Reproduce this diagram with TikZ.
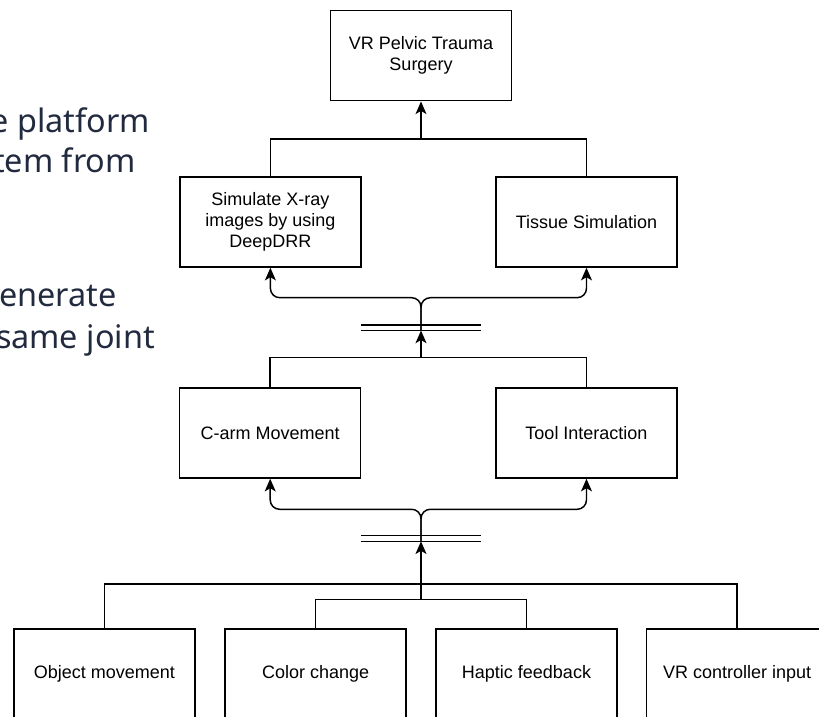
\documentclass[tikz,border=0pt]{standalone}
\usepackage{fontspec}
\setmainfont{Liberation Sans}
\newfontfamily\slidefont{Noto Sans}
\usepackage{tikz}
\usetikzlibrary{calc}
\usetikzlibrary{arrows.meta}

\definecolor{slidetext}{RGB}{33,42,62}

\tikzset{
  box/.style={draw, fill=white, line width=1.1pt, minimum width=135.75pt, minimum height=67.5pt, inner sep=0pt, align=center, font=\fontsize{13.5}{15.75}\selectfont},
  link/.style={line width=1.1pt},
  arrow/.style={line width=1.1pt, -{Stealth[length=9.5pt, width=8.2pt, inset=2.4pt]}},
  bgtext/.style={anchor=base east, inner sep=0pt, text=slidetext, font=\slidefont\fontsize{24.3}{29}\selectfont}
}

\begin{document}
\begin{tikzpicture}[x=0.75pt,y=-0.75pt]

\useasboundingbox (0,0) rectangle (819,717);
\clip (0,0) rectangle (819,717);

% slide text behind the diagram
\node[bgtext] (lineone) at (150,133) {e platform};
\node[bgtext] (linetwo) at (136,173) {tem from};
\node[bgtext] (linethree) at (117,306) {enerate};
\node[bgtext] (linefour) at (155,348) {same joint};

\node[box] (surgery) at (421,55.7) {VR Pelvic Trauma\\Surgery};
\node[box] (xray) at (270.4,222) {Simulate X-ray\\images by using\\DeepDRR};
\node[box] (tissue) at (586.5,222) {Tissue Simulation};
\node[box] (carm) at (270.2,433) {C-arm Movement};
\node[box] (tool) at (586.5,433) {Tool Interaction};
\node[box] (object) at (104.5,674) {Object movement};
\node[box] (color) at (315.6,674) {Color change};
\node[box] (haptic) at (526.5,674) {Haptic feedback};
\node[box] (vrinput) at (737.2,674) {VR controller input};

\coordinate (topjoin) at (421,139);
\coordinate (midjoin) at (421,357.5);
\coordinate (outerjoin) at (421,584);
\coordinate (botjoin) at (421,599.3);
\path (421,330.5) coordinate (midbar);
\path (421,541.3) coordinate (botbar);

% top level
\draw[link] (xray.north) |- (topjoin) -| (tissue.north);
\draw[arrow] (topjoin) -- (surgery.south);

% middle level
\draw[link] (carm.north) |- (midjoin) -| (tool.north);
\draw[arrow] (midjoin) -- (midbar);
\draw[link] ($(midbar)+(-60,0)$) -- ($(midbar)+(60,0)$);
\draw[link] ($(midbar)+(-60,-5.7)$) -- ($(midbar)+(60,-5.7)$);
\draw[arrow, rounded corners=7pt] (midbar) -- ++(0,-32.8) -| (xray.south);
\draw[arrow, rounded corners=7pt] (midbar) -- ++(0,-32.8) -| (tissue.south);

% bottom level
\draw[link] (object.north) |- (outerjoin) -| (vrinput.north);
\draw[link] (color.north) |- (botjoin) -| (haptic.north);
\draw[arrow] (botjoin) -- (botbar);
\draw[link] ($(botbar)+(-60,0)$) -- ($(botbar)+(60,0)$);
\draw[link] ($(botbar)+(-60,-5.7)$) -- ($(botbar)+(60,-5.7)$);
\draw[arrow, rounded corners=7pt] (botbar) -- ++(0,-32) -| (carm.south);
\draw[arrow, rounded corners=7pt] (botbar) -- ++(0,-32) -| (tool.south);

\end{tikzpicture}
\end{document}
